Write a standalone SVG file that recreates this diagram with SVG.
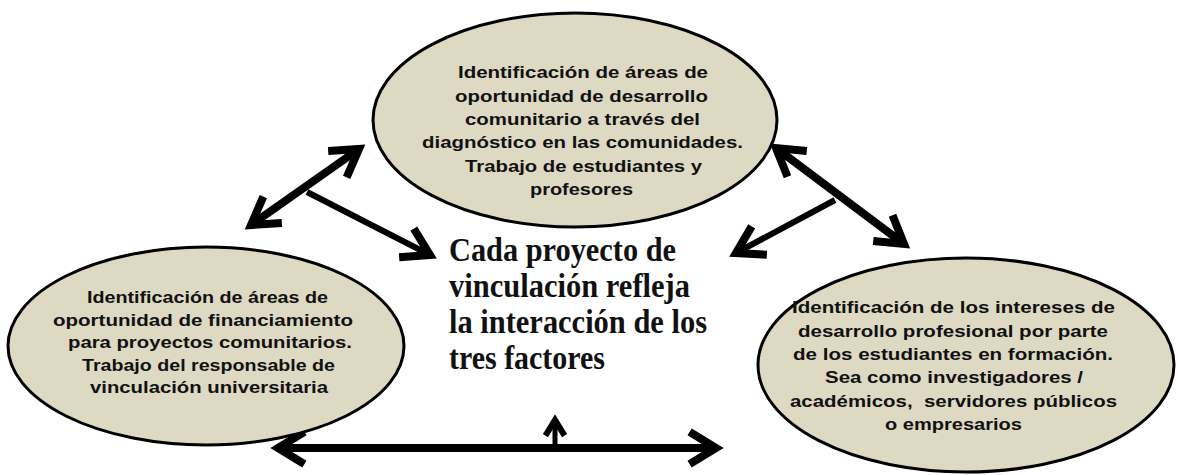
<svg xmlns="http://www.w3.org/2000/svg" width="1178" height="475" viewBox="0 0 1178 475">
<style>
.node ellipse{fill:#DDD9C3;stroke:#000;stroke-width:3}
.lbl{font-family:"Liberation Sans",Arial,sans-serif;font-weight:bold;font-size:17px;fill:#111}
.ctr{font-family:"Liberation Serif","Times New Roman",serif;font-weight:bold;font-size:34px;fill:#111}
.conn line{stroke:#000;fill:none}
.thick{stroke-width:8}
.mid{stroke-width:6}
.thin{stroke-width:5}
</style>
<defs>
<marker id="head" markerUnits="userSpaceOnUse" markerWidth="50" markerHeight="50" viewBox="-35 -25 50 50" refX="0" refY="0" orient="auto-start-reverse" overflow="visible">
<path d="M-23,-14 L0,0 L-23,14" fill="none" stroke="#000" stroke-width="8" stroke-linejoin="miter" stroke-linecap="square"/>
</marker>
<marker id="smallhead" markerUnits="userSpaceOnUse" markerWidth="30" markerHeight="30" viewBox="-20 -15 30 30" refX="0" refY="0" orient="auto" overflow="visible">
<path d="M-13,-8 L0,0 L-13,8" fill="none" stroke="#000" stroke-width="6" stroke-linejoin="miter" stroke-linecap="square"/>
</marker>
</defs>
<rect width="1178" height="475" fill="#fff"/>
<g id="connectors" class="conn">
<line class="thick" x1="251" y1="225" x2="359" y2="149" marker-start="url(#head)" marker-end="url(#head)"/>
<line class="mid" x1="307" y1="192" x2="430" y2="255" marker-end="url(#head)"/>
<line class="thick" x1="776" y1="148" x2="904" y2="244" marker-start="url(#head)" marker-end="url(#head)"/>
<line class="mid" x1="835" y1="200" x2="736" y2="253" marker-end="url(#head)"/>
<line class="thick" x1="278" y1="448" x2="716" y2="448" marker-start="url(#head)" marker-end="url(#head)"/>
<line class="thin" x1="555" y1="448" x2="555" y2="420" marker-end="url(#smallhead)"/>
</g>
<g id="top" class="node">
<ellipse cx="575" cy="120" rx="202" ry="107"/>
<text class="lbl" x="458" y="78" textLength="250" lengthAdjust="spacingAndGlyphs">Identificación de áreas de</text>
<text class="lbl" x="455" y="102" textLength="253" lengthAdjust="spacingAndGlyphs">oportunidad de desarrollo</text>
<text class="lbl" x="465" y="125" textLength="235" lengthAdjust="spacingAndGlyphs">comunitario a través del</text>
<text class="lbl" x="422" y="148" textLength="321" lengthAdjust="spacingAndGlyphs">diagnóstico en las comunidades.</text>
<text class="lbl" x="465" y="172" textLength="237" lengthAdjust="spacingAndGlyphs">Trabajo de estudiantes y</text>
<text class="lbl" x="530" y="195" textLength="103" lengthAdjust="spacingAndGlyphs">profesores</text>
</g>
<g id="left" class="node">
<ellipse cx="206" cy="346" rx="198" ry="99"/>
<text class="lbl" x="87" y="303" textLength="241" lengthAdjust="spacingAndGlyphs">Identificación de áreas de</text>
<text class="lbl" x="53" y="325.5" textLength="300" lengthAdjust="spacingAndGlyphs">oportunidad de financiamiento</text>
<text class="lbl" x="68" y="348" textLength="284" lengthAdjust="spacingAndGlyphs">para proyectos comunitarios.</text>
<text class="lbl" x="82" y="370.5" textLength="253" lengthAdjust="spacingAndGlyphs">Trabajo del responsable de</text>
<text class="lbl" x="90" y="393" textLength="238" lengthAdjust="spacingAndGlyphs">vinculación universitaria</text>
</g>
<g id="right" class="node">
<ellipse cx="966" cy="365" rx="208" ry="107"/>
<text class="lbl" x="792" y="313" textLength="323" lengthAdjust="spacingAndGlyphs">Identificación de los intereses de</text>
<text class="lbl" x="798" y="337" textLength="310" lengthAdjust="spacingAndGlyphs">desarrollo profesional por parte</text>
<text class="lbl" x="793" y="360" textLength="320" lengthAdjust="spacingAndGlyphs">de los estudiantes en formación.</text>
<text class="lbl" x="825" y="383" textLength="258" lengthAdjust="spacingAndGlyphs">Sea como investigadores /</text>
<text class="lbl" x="790" y="407" textLength="327" lengthAdjust="spacingAndGlyphs">académicos,&#160; servidores públicos</text>
<text class="lbl" x="885" y="430" textLength="137" lengthAdjust="spacingAndGlyphs">o empresarios</text>
</g>
<g id="center">
<text class="ctr" x="449" y="261" textLength="227" lengthAdjust="spacingAndGlyphs">Cada proyecto de</text>
<text class="ctr" x="449" y="297" textLength="241" lengthAdjust="spacingAndGlyphs">vinculación refleja</text>
<text class="ctr" x="449" y="333" textLength="258" lengthAdjust="spacingAndGlyphs">la interacción de los</text>
<text class="ctr" x="449" y="369" textLength="156" lengthAdjust="spacingAndGlyphs">tres factores</text>
</g>
</svg>
